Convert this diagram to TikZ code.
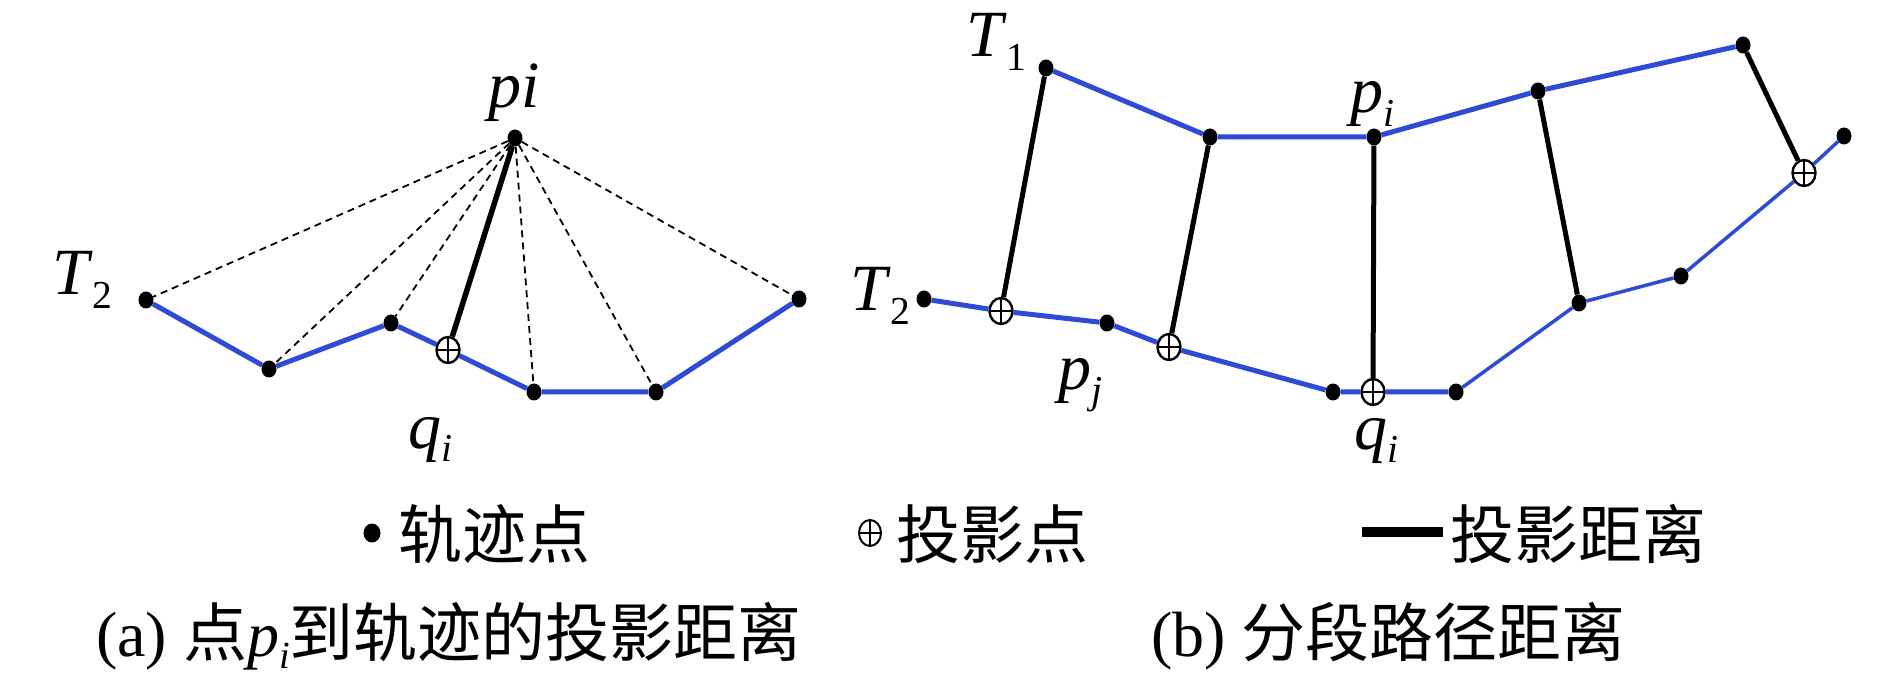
\documentclass[tikz,border=0pt]{standalone}
\usepackage{fontspec}
\setmainfont{Liberation Serif}
\newfontfamily\cjk{Noto Sans CJK SC}
\usetikzlibrary{shapes.geometric}
\definecolor{trajblue}{RGB}{45,75,215}
\makeatletter
\newcommand\lsub[1]{\raisebox{-0.2em}{\fontsize{0.6\dimexpr\f@size pt\relax}{0pt}\selectfont #1}}
\makeatother
\tikzset{
  traj/.style={draw=trajblue, line width=5pt},
  trajthin/.style={draw=trajblue, line width=3.5pt},
  proj/.style={draw=black, line width=5.5pt},
  projb/.style={draw=black, line width=5pt},
  dsh/.style={draw=black, line width=1.8pt, dash pattern=on 7pt off 5pt},
  pt/.style={ellipse, fill=black, inner sep=0pt, minimum width=15pt, minimum height=17pt},
  prj/.style={ellipse, draw=black, fill=white, line width=2.4pt, inner sep=0pt,
    minimum width=23pt, minimum height=26pt,
    path picture={\draw[line width=1.8pt] (path picture bounding box.north) -- (path picture bounding box.south)
      (path picture bounding box.west) -- (path picture bounding box.east);}},
  lab/.style={font=\fontsize{66}{78}\selectfont, inner sep=0pt, anchor=base west},
  txt/.style={font=\fontsize{64}{76}\selectfont, inner sep=0pt, anchor=base west}
}
\begin{document}
\begin{tikzpicture}[x=1pt, y=-1pt]
\useasboundingbox (0,0) rectangle (1890,692);
% ---------- panel (a) ----------
\node[pt] (P) at (515,138) {};
\node[pt] (A1) at (146,300) {};
\node[pt] (A2) at (269,369) {};
\node[pt] (A3) at (391,323) {};
\node[prj] (QA) at (448,350) {};
\node[pt] (A4) at (534,392) {};
\node[pt] (A5) at (656,392) {};
\node[pt] (A6) at (799,299) {};
\draw[traj] (A1) -- (A2) -- (A3) -- (QA) -- (A4) -- (A5) -- (A6);
\draw[dsh] (P) -- (A1);
\draw[dsh] (P) -- (A2);
\draw[dsh] (P) -- (A3);
\draw[dsh] (P) -- (A4);
\draw[dsh] (P) -- (A5);
\draw[dsh] (P) -- (A6);
\draw[proj] (P) -- (QA);
\node[lab] (lpa) at (488,108) {\textit{pi}};
\node[lab] (lt2a) at (52,295) {\textit{T}\lsub{2}};
\node[lab] (lqa) at (408,448) {\textit{q}\lsub{\textit{i}}};
% ---------- panel (b) ----------
\node[pt] (U1) at (1046,68) {};
\node[pt] (U2) at (1210,137) {};
\node[pt] (U3) at (1374,137) {};
\node[pt] (U4) at (1538,91) {};
\node[pt] (U5) at (1743,45) {};
\node[pt] (L1) at (924,299) {};
\node[prj] (Q1) at (1001,311) {};
\node[pt] (L2) at (1107,323) {};
\node[prj] (Q2) at (1169,347) {};
\node[pt] (L3) at (1333,392) {};
\node[prj] (Q3) at (1373,392) {};
\node[pt] (L4) at (1456,392) {};
\node[pt] (L5) at (1579,303) {};
\node[pt] (L6) at (1681,276) {};
\node[prj] (Q4) at (1804,173) {};
\node[pt] (L7) at (1844,136) {};
\draw[traj] (U1) -- (U2) -- (U3) -- (U4) -- (U5);
\draw[traj] (L1) -- (Q1) -- (L2) -- (Q2) -- (L3) -- (Q3) -- (L4);
\draw[trajthin] (L4) -- (L5) -- (L6) -- (Q4) -- (L7);
\draw[projb] (U1) -- (Q1);
\draw[projb] (U2) -- (Q2);
\draw[projb] (U3) -- (Q3);
\draw[projb] (U4) -- (L5);
\draw[projb] (U5) -- (Q4);
\node[lab] (lt1) at (966,57) {\textit{T}\lsub{1}};
\node[lab] (lpb) at (1350,113) {\textit{p}\lsub{\textit{i}}};
\node[lab] (lt2b) at (850,311) {\textit{T}\lsub{2}};
\node[lab] (lpj) at (1058,390) {\textit{p}\lsub{\textit{j}}};
\node[lab] (lqb) at (1354,449) {\textit{q}\lsub{\textit{i}}};
% ---------- legend ----------
\node[pt, minimum width=17pt, minimum height=19pt] (legdot) at (372,533) {};
\node[txt] (legt1) at (398,558) {\cjk 轨迹点};
\node[prj, minimum width=22pt, minimum height=26pt, line width=2pt] (legprj) at (870,533) {};
\node[txt] (legt2) at (896,558) {\cjk 投影点};
\coordinate (barL) at (1362,532);
\coordinate (barR) at (1443,532);
\draw[line width=10pt] (barL) -- (barR);
\node[txt] (legt3) at (1450,558) {\cjk 投影距离};
% ---------- captions ----------
\node[txt] (capa) at (96,656) {(a) {\cjk 点}\textit{p}\lsub{\textit{i}}{\cjk 到轨迹的投影距离}};
\node[txt] (capb) at (1151,656) {(b) {\cjk 分段路径距离}};
\end{tikzpicture}
\end{document}
